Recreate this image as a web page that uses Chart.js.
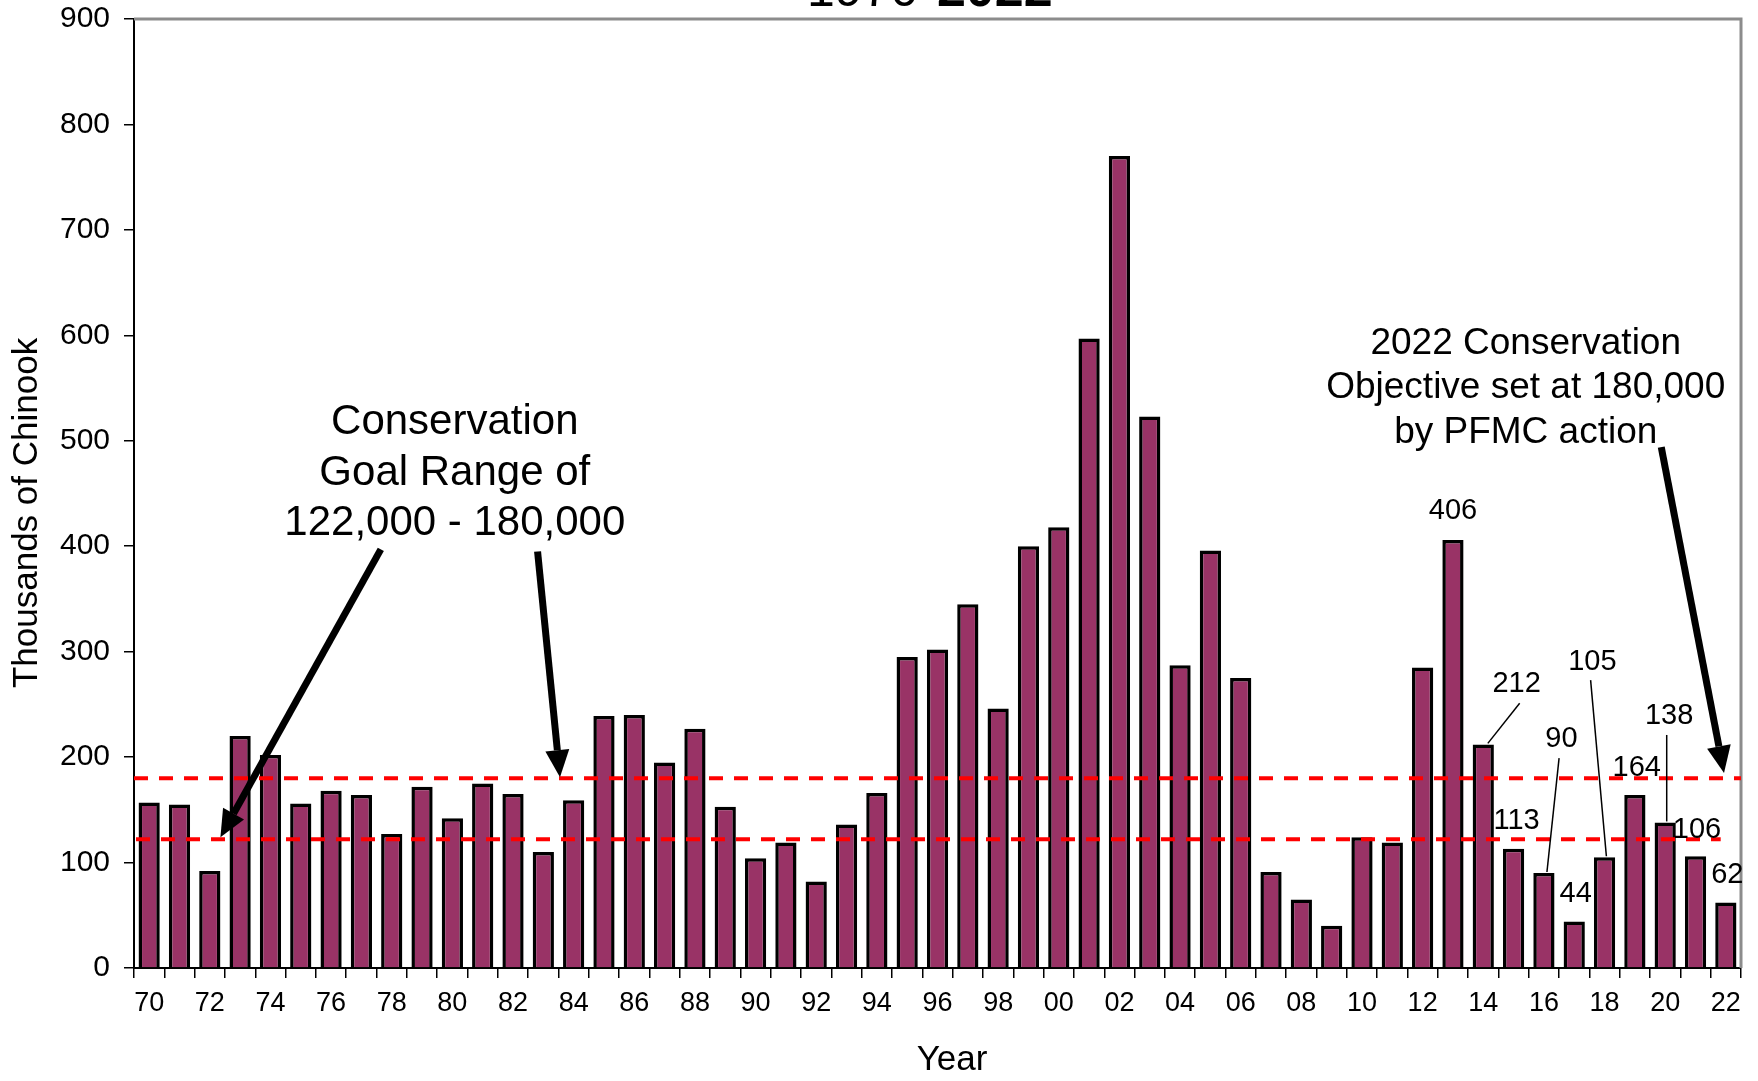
<!DOCTYPE html>
<html>
<head>
<meta charset="utf-8">
<script src="https://cdn.jsdelivr.net/npm/chart.js@4/dist/chart.umd.min.js"></script>
<style>
  body { margin: 0; background: #fff; }
</style>
</head>
<body>
<canvas id="chart" width="1758" height="1081"></canvas>
<script>
// Sacramento fall Chinook escapement, thousands of fish
const years = [
  1970, 1971, 1972, 1973, 1974, 1975, 1976, 1977, 1978, 1979,
  1980, 1981, 1982, 1983, 1984, 1985, 1986, 1987, 1988, 1989,
  1990, 1991, 1992, 1993, 1994, 1995, 1996, 1997, 1998, 1999,
  2000, 2001, 2002, 2003, 2004, 2005, 2006, 2007, 2008, 2009,
  2010, 2011, 2012, 2013, 2014, 2015, 2016, 2017, 2018, 2019,
  2020, 2021, 2022
];
const escapement = [
  157, 155, 92, 220, 202, 156, 168, 164, 127, 172,
  142, 175, 165, 110, 159, 239, 240, 195, 227, 153,
  104, 119, 82, 136, 166, 295, 302, 345, 246, 400,
  418, 597, 770, 523, 287, 396, 275, 91, 65, 40,
  124, 119, 285, 406, 212, 113, 90, 44, 105, 164,
  138, 106, 62
];
const tickLabels = years.map(y => String(y).slice(2));
const goalLow = 122;
const goalHigh = 180;
const labelledYears = [2013, 2014, 2015, 2016, 2017, 2018, 2019, 2020, 2021, 2022];

const FONT = "'Liberation Sans', Arial, sans-serif";

// where each value label sits, relative to its bar (dx in bars, v in thousands)
const calloutPos = {
  2013: { dx: 0.0, v: 433 },
  2014: { dx: 1.1, v: 269, lead: [[1.2, 251], [0.15, 213]] },
  2015: { dx: 0.1, v: 139 },
  2016: { dx: 0.58, v: 217, lead: [[0.5, 199], [0.1, 91]] },
  2017: { dx: 0.05, v: 70 },
  2018: { dx: -0.4, v: 290, lead: [[-0.46, 273], [0.06, 106]] },
  2019: { dx: 0.06, v: 190 },
  2020: { dx: 0.13, v: 239, lead: [[0.05, 221], [0.05, 139]] },
  2021: { dx: 0.05, v: 131 },
  2022: { dx: 0.05, v: 88 }
};

function arrow(ctx, x1, y1, x2, y2) {
  const ang = Math.atan2(y2 - y1, x2 - x1);
  const head = 27, half = 12;
  const bx = x2 - head * Math.cos(ang), by = y2 - head * Math.sin(ang);
  ctx.beginPath();
  ctx.lineWidth = 7;
  ctx.moveTo(x1, y1);
  ctx.lineTo(bx, by);
  ctx.stroke();
  ctx.beginPath();
  ctx.moveTo(x2, y2);
  ctx.lineTo(bx + half * Math.sin(ang), by - half * Math.cos(ang));
  ctx.lineTo(bx - half * Math.sin(ang), by + half * Math.cos(ang));
  ctx.closePath();
  ctx.fill();
}

const extras = {
  id: 'extras',
  afterDatasetsDraw(chart) {
    const ctx = chart.ctx;
    const xs = chart.scales.x, ys = chart.scales.y;
    const a = chart.chartArea;
    const px = i => xs.getPixelForValue(i);
    const py = v => ys.getPixelForValue(v);

    ctx.save();
    // frame top/right
    ctx.strokeStyle = '#8c8c8c';
    ctx.lineWidth = 3;
    ctx.beginPath();
    ctx.moveTo(a.left, a.top);
    ctx.lineTo(a.right, a.top);
    ctx.lineTo(a.right, a.bottom);
    ctx.stroke();

    // goal range lines
    ctx.strokeStyle = '#ff0000';
    ctx.lineWidth = 4;
    ctx.setLineDash([14, 11]);
    ctx.beginPath();
    ctx.moveTo(a.left, py(goalHigh));
    ctx.lineTo(a.right, py(goalHigh));
    ctx.moveTo(a.left + 2, py(goalLow));
    ctx.lineTo(px(51.83), py(goalLow));
    ctx.stroke();
    ctx.setLineDash([]);

    // value labels
    ctx.fillStyle = '#000';
    ctx.strokeStyle = '#000';
    ctx.font = '29px ' + FONT;
    ctx.textAlign = 'center';
    ctx.textBaseline = 'middle';
    labelledYears.forEach(yr => {
      const i = years.indexOf(yr);
      const c = calloutPos[yr];
      ctx.fillText(String(escapement[i]), px(i + c.dx), py(c.v));
      if (c.lead) {
        ctx.lineWidth = 1.5;
        ctx.beginPath();
        ctx.moveTo(px(i + c.lead[0][0]), py(c.lead[0][1]));
        ctx.lineTo(px(i + c.lead[1][0]), py(c.lead[1][1]));
        ctx.stroke();
      }
    });

    // annotation texts
    ctx.font = '42px ' + FONT;
    ['Conservation', 'Goal Range of', '122,000 - 180,000'].forEach((t, k) => {
      ctx.fillText(t, px(10.08), py(517 - k * 47.5));
    });
    ctx.font = '37px ' + FONT;
    ['2022 Conservation', 'Objective set at 180,000', 'by PFMC action'].forEach((t, k) => {
      ctx.fillText(t, px(45.4), py(592 - k * 42));
    });

    // arrows
    arrow(ctx, px(7.64), py(397), px(2.35), py(124));
    arrow(ctx, px(12.81), py(395), px(13.55), py(181));
    arrow(ctx, px(49.87), py(494), px(51.94), py(185));

    // title, mostly cut off above the canvas
    ctx.textAlign = 'left';
    ctx.textBaseline = 'alphabetic';
    ctx.font = '50px ' + FONT;
    ctx.fillText('1970-', 807, 6);
    const w = ctx.measureText('1970-').width;
    ctx.font = 'bold 52px ' + FONT;
    ctx.fillText('2022', 807 + w + 2, 6);
    ctx.restore();
  }
};

new Chart(document.getElementById('chart'), {
  type: 'bar',
  data: {
    labels: tickLabels,
    datasets: [{
      data: escapement,
      backgroundColor: '#993366',
      borderColor: '#000000',
      borderWidth: 3.5,
      borderSkipped: 'bottom',
      barPercentage: 0.7,
      categoryPercentage: 1.0
    }]
  },
  options: {
    responsive: false,
    devicePixelRatio: 1,
    animation: false,
    layout: { padding: { top: 19, right: 17, left: 0, bottom: 0 } },
    plugins: {
      legend: { display: false },
      title: { display: false },
      tooltip: { enabled: false }
    },
    scales: {
      x: {
        grid: { drawOnChartArea: false, tickLength: 10, color: '#000', lineWidth: 1.5 },
        border: { color: '#000', width: 2 },
        ticks: {
          autoSkip: false,
          maxRotation: 0,
          padding: 9,
          color: '#000',
          font: { family: FONT, size: 27 },
          callback: (v, i) => (i % 2 === 0 ? tickLabels[i] : '')
        },
        title: {
          display: true,
          text: '   Year',
          color: '#000',
          font: { family: FONT, size: 35 },
          padding: { top: 0, bottom: 0 }
        },
        afterFit: s => { s.height = 113; s.paddingLeft = 0; s.paddingRight = 0; }
      },
      y: {
        min: 0,
        max: 900,
        grid: { drawOnChartArea: false, tickLength: 10, color: '#000', lineWidth: 1.5 },
        border: { color: '#000', width: 2 },
        ticks: {
          stepSize: 100,
          padding: 14,
          color: '#000',
          font: { family: FONT, size: 30 }
        },
        title: {
          display: true,
          text: 'Thousands of Chinook    ',
          color: '#000',
          font: { family: FONT, size: 35 },
          padding: { top: 6, bottom: 0 }
        },
        afterFit: s => { s.width = 134; s.paddingTop = 0; s.paddingBottom = 0; }
      }
    }
  },
  plugins: [extras]
});
</script>
</body>
</html>
